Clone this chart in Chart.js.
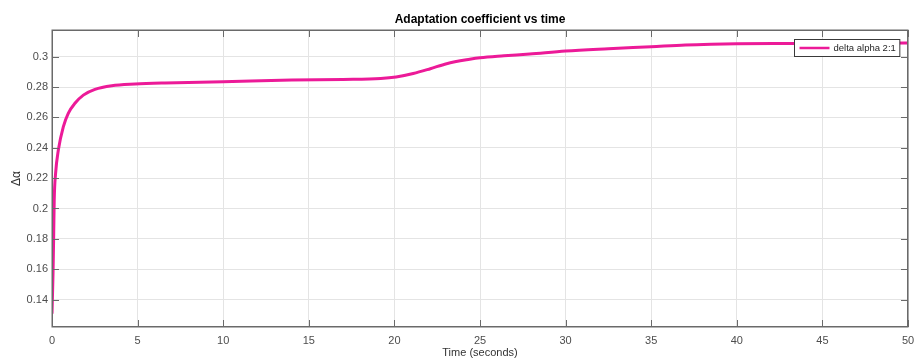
<!DOCTYPE html>
<html>
<head>
<meta charset="utf-8">
<script src="https://cdn.jsdelivr.net/npm/chart.js@4"></script>
<style>
  html, body { margin: 0; padding: 0; background: #fff; }
  canvas { display: block; }
</style>
</head>
<body>
<canvas id="c" width="914" height="361"></canvas>
<script>
// Adaptation coefficient samples over time
const timeSec = [0, 0.06, 0.1, 0.13, 0.21, 0.37, 0.66, 0.95, 1.34, 1.83, 2.51, 3.49, 4.85, 6.6, 10, 14, 17, 19.2, 20.1, 21.1, 22.1, 23.05, 24.4, 25, 26.4, 27.9, 30, 32.5, 35, 37, 38.5, 40, 43.3, 50];
const deltaAlpha = [0.1307, 0.1571, 0.1835, 0.2055, 0.2231, 0.2385, 0.2538, 0.2627, 0.2693, 0.2747, 0.2785, 0.2809, 0.2820, 0.2827, 0.2835, 0.2846, 0.2850, 0.2856, 0.2866, 0.2889, 0.2921, 0.2954, 0.2983, 0.2993, 0.3006, 0.3018, 0.3038, 0.3053, 0.3066, 0.3077, 0.3082, 0.3085, 0.3087, 0.3091];

const xTicks = [0, 5, 10, 15, 20, 25, 30, 35, 40, 45, 50];
const yTicks = [0.14, 0.16, 0.18, 0.2, 0.22, 0.24, 0.26, 0.28, 0.3];

const seriesLabel = 'delta alpha 2:1';
const lineColor = '#ec1a98';
const frameColor = '#6a6a6a';
const gridColor = '#e4e4e4';
const fontFamily = '"Liberation Sans", Arial, Helvetica, sans-serif';

const points = timeSec.map((t, i) => ({ x: t, y: deltaAlpha[i] }));

// white page background; title centred over the plot area
const bgPlugin = {
  id: 'bg',
  afterLayout(chart) {
    const tb = chart.titleBlock;
    if (tb) {
      tb.left = chart.chartArea.left;
      tb.right = chart.chartArea.right;
      tb.width = tb.right - tb.left;
    }
  },
  beforeDraw(chart) {
    const ctx = chart.ctx;
    ctx.save();
    ctx.fillStyle = '#fff';
    ctx.fillRect(0, 0, chart.width, chart.height);
    ctx.restore();
  }
};

// box frame with inward tick marks on all four sides, plus boxed legend
const framePlugin = {
  id: 'frame',
  afterDraw(chart) {
    const ctx = chart.ctx;
    const { left, right, top, bottom } = chart.chartArea;
    const xs = chart.scales.x, ys = chart.scales.y;
    const tl = 7;
    ctx.save();
    ctx.strokeStyle = frameColor;
    ctx.lineWidth = 1;
    ctx.beginPath();
    xs.ticks.forEach(t => {
      const px = Math.round(xs.getPixelForValue(t.value)) + 0.5;
      ctx.moveTo(px, bottom); ctx.lineTo(px, bottom - tl);
      ctx.moveTo(px, top); ctx.lineTo(px, top + tl);
    });
    ys.ticks.forEach(t => {
      const py = Math.round(ys.getPixelForValue(t.value)) + 0.5;
      ctx.moveTo(left, py); ctx.lineTo(left + tl, py);
      ctx.moveTo(right, py); ctx.lineTo(right - tl, py);
    });
    ctx.stroke();
    ctx.lineWidth = 1.5;
    ctx.strokeRect(Math.round(left) + 0.25, Math.round(top) + 0.25, Math.round(right - left) - 0.5, Math.round(bottom - top) - 0.5);

    // legend
    const ds = chart.data.datasets[0];
    ctx.font = '9.5px ' + fontFamily;
    const tw = ctx.measureText(ds.label).width;
    const padL = 5, lineLen = 30, gap = 4, padR = 4, h = 17;
    const w = padL + lineLen + gap + tw + padR;
    const x0 = Math.round(right - 9 - w) + 0.5;
    const y0 = Math.round(top + 9) + 0.5;
    ctx.fillStyle = '#fff';
    ctx.fillRect(x0, y0, w, h);
    ctx.strokeStyle = '#3a3a3a';
    ctx.lineWidth = 1;
    ctx.strokeRect(x0, y0, w, h);
    ctx.strokeStyle = ds.borderColor;
    ctx.lineWidth = 2.5;
    ctx.beginPath();
    ctx.moveTo(x0 + padL, y0 + h / 2);
    ctx.lineTo(x0 + padL + lineLen, y0 + h / 2);
    ctx.stroke();
    ctx.fillStyle = '#262626';
    ctx.textBaseline = 'middle';
    ctx.textAlign = 'left';
    ctx.fillText(ds.label, x0 + padL + lineLen + gap, y0 + h / 2 + 0.5);
    ctx.restore();
  }
};

new Chart(document.getElementById('c'), {
  type: 'line',
  data: {
    datasets: [{
      label: seriesLabel,
      data: points,
      borderColor: lineColor,
      borderWidth: 3,
      pointRadius: 0,
      fill: false,
      cubicInterpolationMode: 'monotone'
    }]
  },
  options: {
    responsive: false,
    animation: false,
    devicePixelRatio: 1,
    layout: { padding: { left: 0, right: 0, top: 0, bottom: 0 } },
    plugins: {
      legend: { display: false },
      tooltip: { enabled: false },
      title: {
        display: true,
        text: 'Adaptation coefficient vs time',
        color: '#000',
        font: { family: fontFamily, size: 12, weight: 'bold' },
        padding: { top: 12, bottom: 3.6 }
      }
    },
    scales: {
      x: {
        type: 'linear',
        min: 0,
        max: 50,
        afterBuildTicks: s => { s.ticks = xTicks.map(v => ({ value: v })); },
        afterFit: s => { s.height = 34; s.paddingLeft = 0; s.paddingRight = 6; },
        grid: { color: gridColor, drawTicks: false, lineWidth: 1 },
        border: { display: false },
        ticks: {
          padding: 7,
          color: '#4d4d4d',
          maxRotation: 0,
          font: { family: fontFamily, size: 11 },
          callback: v => String(v)
        },
        title: {
          display: true,
          text: 'Time (seconds)',
          color: '#333',
          font: { family: fontFamily, size: 11 },
          padding: { top: 0, bottom: 1 }
        }
      },
      y: {
        type: 'linear',
        min: 0.1219,
        max: 0.3176,
        afterBuildTicks: s => { s.ticks = yTicks.map(v => ({ value: v })); },
        afterFit: s => { s.width = 52; },
        grid: { color: gridColor, drawTicks: false, lineWidth: 1 },
        border: { display: false },
        ticks: {
          padding: 4,
          color: '#4d4d4d',
          font: { family: fontFamily, size: 11 },
          callback: v => String(Number(v.toFixed(2)))
        },
        title: {
          display: true,
          text: 'Δα',
          color: '#333',
          font: { family: fontFamily, size: 12 },
          padding: { top: 9, bottom: 0 }
        }
      }
    }
  },
  plugins: [bgPlugin, framePlugin]
});
</script>
</body>
</html>
